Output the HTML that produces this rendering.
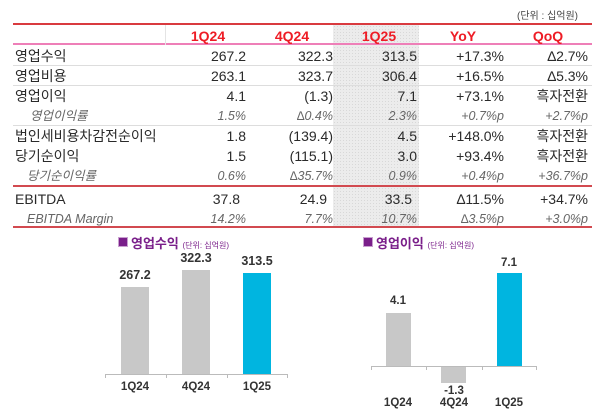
<!DOCTYPE html>
<html><head><meta charset="utf-8"><style>
body{margin:0;width:600px;height:409px;background:#fff;position:relative;overflow:hidden;font-family:"Liberation Sans","Noto Sans CJK KR",sans-serif;color:#333}
.a{position:absolute;white-space:nowrap}
.r{text-align:right}
.c{text-align:center}
.v{font-size:14px;line-height:16px;color:#2a2a2a}
.i{font-style:italic;font-size:12.5px;color:#666;line-height:16px}
.h{color:#ee1c25;font-size:14px;font-weight:bold;line-height:16px}
.line{position:absolute;left:13px;width:579px}
.bar{position:absolute;background:#c8c8c8}
.lbl{position:absolute;font-size:11.5px;font-weight:bold;color:#333;text-align:center;width:60px}
</style></head><body>
<div class="a" style="right:22px;top:7px;font-size:10px;color:#444">(단위 : 십억원)</div>
<div style="position:absolute;left:333px;top:25px;width:86px;height:203px;background:#ececec;background-image:radial-gradient(#d8d8d8 0.6px,transparent 0.7px);background-size:3px 3px"></div>
<div class="line" style="top:23px;height:2px;background:#d93a3f"></div>
<div class="line" style="top:43px;height:2px;background:#ee7fb8"></div>
<div class="line" style="top:65px;height:1px;background:#ddd"></div>
<div class="line" style="top:85px;height:1px;background:#ddd"></div>
<div class="line" style="top:125px;height:1px;background:#ddd"></div>
<div class="line" style="top:185px;height:2px;background:#d24a50"></div>
<div class="line" style="top:226px;height:2px;background:#d24a50"></div>
<div style="position:absolute;left:165px;top:25px;width:1px;height:20px;background:#e4e4e4"></div>

<div class="a h c" style="left:178px;top:28px;width:60px">1Q24</div>
<div class="a h c" style="left:262px;top:28px;width:60px">4Q24</div>
<div class="a h c" style="left:349px;top:28px;width:60px">1Q25</div>
<div class="a h c" style="left:433px;top:28px;width:60px">YoY</div>
<div class="a h c" style="left:518px;top:28px;width:60px">QoQ</div>

<div class="a v" style="left:15px;top:48px">영업수익</div>
<div class="a v" style="left:15px;top:68px">영업비용</div>
<div class="a v" style="left:15px;top:88px">영업이익</div>
<div class="a i" style="left:30px;top:108px">영업이익률</div>
<div class="a v" style="left:15px;top:128px">법인세비용차감전순이익</div>
<div class="a v" style="left:15px;top:148px">당기순이익</div>
<div class="a i" style="left:27px;top:168px">당기순이익률</div>
<div class="a v" style="left:15px;top:191px">EBITDA</div>
<div class="a i" style="left:27px;top:211px">EBITDA Margin</div>

<div style="position:absolute;left:0;top:0">
<div class="a v r" style="right:-246px;top:48px">267.2</div>
<div class="a v r" style="right:-246px;top:68px">263.1</div>
<div class="a v r" style="right:-246px;top:88px">4.1</div>
<div class="a i r" style="right:-246px;top:108px">1.5%</div>
<div class="a v r" style="right:-246px;top:128px">1.8</div>
<div class="a v r" style="right:-246px;top:148px">1.5</div>
<div class="a i r" style="right:-246px;top:168px">0.6%</div>
<div class="a v r" style="right:-240px;top:191px">37.8</div>
<div class="a i r" style="right:-246px;top:211px">14.2%</div>

<div class="a v r" style="right:-333px;top:48px">322.3</div>
<div class="a v r" style="right:-333px;top:68px">323.7</div>
<div class="a v r" style="right:-333px;top:88px">(1.3)</div>
<div class="a i r" style="right:-333px;top:108px">∆0.4%</div>
<div class="a v r" style="right:-333px;top:128px">(139.4)</div>
<div class="a v r" style="right:-333px;top:148px">(115.1)</div>
<div class="a i r" style="right:-333px;top:168px">∆35.7%</div>
<div class="a v r" style="right:-327px;top:191px">24.9</div>
<div class="a i r" style="right:-333px;top:211px">7.7%</div>

<div class="a v r" style="right:-417px;top:48px">313.5</div>
<div class="a v r" style="right:-417px;top:68px">306.4</div>
<div class="a v r" style="right:-417px;top:88px">7.1</div>
<div class="a i r" style="right:-417px;top:108px">2.3%</div>
<div class="a v r" style="right:-417px;top:128px">4.5</div>
<div class="a v r" style="right:-417px;top:148px">3.0</div>
<div class="a i r" style="right:-417px;top:168px">0.9%</div>
<div class="a v r" style="right:-412px;top:191px">33.5</div>
<div class="a i r" style="right:-417px;top:211px">10.7%</div>

<div class="a v r" style="right:-504px;top:48px">+17.3%</div>
<div class="a v r" style="right:-504px;top:68px">+16.5%</div>
<div class="a v r" style="right:-504px;top:88px">+73.1%</div>
<div class="a i r" style="right:-504px;top:108px">+0.7%p</div>
<div class="a v r" style="right:-504px;top:128px">+148.0%</div>
<div class="a v r" style="right:-504px;top:148px">+93.4%</div>
<div class="a i r" style="right:-504px;top:168px">+0.4%p</div>
<div class="a v r" style="right:-504px;top:191px">∆11.5%</div>
<div class="a i r" style="right:-504px;top:211px">∆3.5%p</div>

<div class="a v r" style="right:-588px;top:48px">∆2.7%</div>
<div class="a v r" style="right:-588px;top:68px">∆5.3%</div>
<div class="a v r" style="right:-588px;top:88px">흑자전환</div>
<div class="a i r" style="right:-588px;top:108px">+2.7%p</div>
<div class="a v r" style="right:-588px;top:128px">흑자전환</div>
<div class="a v r" style="right:-588px;top:148px">흑자전환</div>
<div class="a i r" style="right:-588px;top:168px">+36.7%p</div>
<div class="a v r" style="right:-588px;top:191px">+34.7%</div>
<div class="a i r" style="right:-588px;top:211px">+3.0%p</div>
</div>

<div style="position:absolute;left:118px;top:237px;width:8px;height:8px;background:#7a1f8a;border:1px solid #c9a0d0"></div>
<div class="a" style="left:131px;top:233px;font-size:13px;font-weight:bold;color:#7a1f8a">영업수익 <span style="font-size:8px;font-weight:normal">(단위: 십억원)</span></div>
<div class="bar" style="left:121px;top:287px;width:28px;height:87px"></div>
<div class="bar" style="left:182px;top:270px;width:28px;height:104px"></div>
<div class="bar" style="left:243px;top:273px;width:28px;height:101px;background:#00b5e0"></div>
<div class="lbl" style="left:105px;top:268px;font-size:12.5px">267.2</div>
<div class="lbl" style="left:166px;top:251px;font-size:12.5px">322.3</div>
<div class="lbl" style="left:227px;top:254px;font-size:12.5px">313.5</div>
<div style="position:absolute;left:105px;top:374px;width:183px;height:1px;background:#bbb"></div>
<div style="position:absolute;left:105px;top:374px;width:1px;height:4px;background:#bbb"></div>
<div style="position:absolute;left:166px;top:374px;width:1px;height:4px;background:#bbb"></div>
<div style="position:absolute;left:227px;top:374px;width:1px;height:4px;background:#bbb"></div>
<div style="position:absolute;left:287px;top:374px;width:1px;height:4px;background:#bbb"></div>
<div class="lbl" style="left:105px;top:381px">1Q24</div>
<div class="lbl" style="left:166px;top:381px">4Q24</div>
<div class="lbl" style="left:227px;top:381px">1Q25</div>

<div style="position:absolute;left:363px;top:237px;width:8px;height:8px;background:#7a1f8a;border:1px solid #c9a0d0"></div>
<div class="a" style="left:376px;top:233px;font-size:13px;font-weight:bold;color:#7a1f8a">영업이익 <span style="font-size:8px;font-weight:normal">(단위: 십억원)</span></div>
<div class="bar" style="left:386px;top:313px;width:25px;height:53px"></div>
<div class="bar" style="left:441px;top:366px;width:25px;height:17px"></div>
<div class="bar" style="left:497px;top:273px;width:25px;height:93px;background:#00b5e0"></div>
<div class="lbl" style="left:368px;top:295px">4.1</div>
<div class="lbl" style="left:424px;top:385px">-1.3</div>
<div class="lbl" style="left:479px;top:257px">7.1</div>
<div style="position:absolute;left:371px;top:366px;width:166px;height:1px;background:#bbb"></div>
<div style="position:absolute;left:371px;top:366px;width:1px;height:4px;background:#bbb"></div>
<div style="position:absolute;left:426px;top:366px;width:1px;height:4px;background:#bbb"></div>
<div style="position:absolute;left:482px;top:366px;width:1px;height:4px;background:#bbb"></div>
<div style="position:absolute;left:536px;top:366px;width:1px;height:4px;background:#bbb"></div>
<div class="lbl" style="left:368px;top:397px">1Q24</div>
<div class="lbl" style="left:424px;top:397px">4Q24</div>
<div class="lbl" style="left:479px;top:397px">1Q25</div>
</body></html>
